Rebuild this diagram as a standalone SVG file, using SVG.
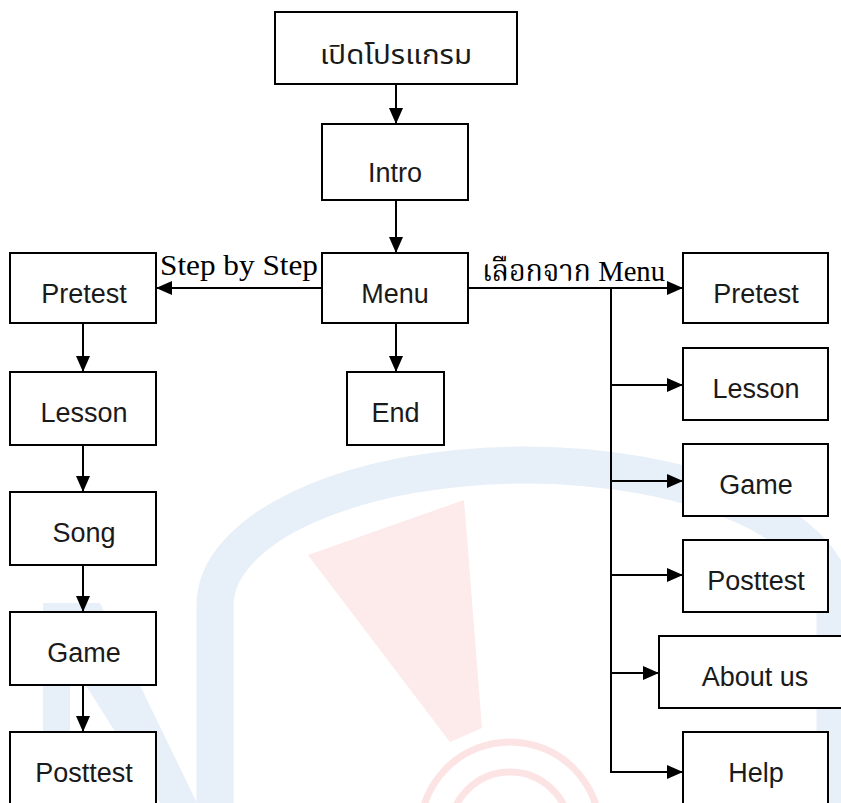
<svg xmlns="http://www.w3.org/2000/svg" width="841" height="803" viewBox="0 0 841 803">
<defs>
<style>
.box{fill:#fff;stroke:#000;stroke-width:2}
.lbl{font-family:"Liberation Sans",Arial,"Noto Sans Thai","Noto Sans",sans-serif;font-size:27px;fill:#1a1a1a;text-anchor:middle}
.thai{font-family:"Noto Sans Thai","Noto Sans Thai UI","Loma","Garuda","Tlwg Typo","DejaVu Sans","Liberation Sans",sans-serif;font-size:27px;fill:#1a1a1a}
.ser{font-family:"Liberation Serif","Times New Roman","Noto Serif Thai","Noto Sans Thai",serif;font-size:30px;fill:#000}
.ln{fill:none;stroke:#000;stroke-width:2}
.wm-b{fill:#e7eff8}
</style>
<marker id="ah" markerUnits="userSpaceOnUse" markerWidth="16" markerHeight="14" refX="16" refY="7" orient="auto">
<path d="M0,0 L16,7 L0,14 Z" fill="#000"/>
</marker>
</defs>
<rect width="841" height="803" fill="#fff"/>
<g id="watermark">
<path d="M215,803 V605 A310,140 0 0 1 835,605 V803" fill="none" stroke="#e7eff8" stroke-width="37"/>
<polygon class="wm-b" points="43,603 100,603 197,803 160,803 70,660 70,803 43,803"/>
<polygon points="308,555 464,500 482,728 450,742" fill="#fdeaea"/>
<circle cx="510" cy="832" r="90" fill="none" stroke="#fde4e4" stroke-width="7"/>
<circle cx="510" cy="832" r="60" fill="none" stroke="#fde4e4" stroke-width="7"/>
</g>
<g id="connectors">
<path class="ln" d="M396,84 V124" marker-end="url(#ah)"/>
<path class="ln" d="M396,200 V253" marker-end="url(#ah)"/>
<path class="ln" d="M396,323 V372" marker-end="url(#ah)"/>
<path class="ln" d="M322,288 H156" marker-end="url(#ah)"/>
<path class="ln" d="M468,288 H683" marker-end="url(#ah)"/>
<path class="ln" d="M83,323 V372" marker-end="url(#ah)"/>
<path class="ln" d="M83,445 V492" marker-end="url(#ah)"/>
<path class="ln" d="M83,565 V612" marker-end="url(#ah)"/>
<path class="ln" d="M83,685 V732" marker-end="url(#ah)"/>
<path class="ln" d="M611,288 V773"/>
<path class="ln" d="M610,385 H683" marker-end="url(#ah)"/>
<path class="ln" d="M610,481 H683" marker-end="url(#ah)"/>
<path class="ln" d="M610,575 H683" marker-end="url(#ah)"/>
<path class="ln" d="M610,673 H659" marker-end="url(#ah)"/>
<path class="ln" d="M610,772 H683" marker-end="url(#ah)"/>
<text class="ser" x="160" y="275" textLength="158" lengthAdjust="spacingAndGlyphs">Step by Step</text>
<text class="ser" x="482" y="281" textLength="183" lengthAdjust="spacingAndGlyphs">เลือกจาก Menu</text>
</g>
<g id="n-open"><rect class="box" x="275" y="12" width="242" height="72"/><text class="thai" x="396" y="64" text-anchor="middle" textLength="152" lengthAdjust="spacingAndGlyphs">เปิดโปรแกรม</text></g>
<g id="n-intro"><rect class="box" x="322" y="124" width="146" height="76"/><text class="lbl" x="395" y="182">Intro</text></g>
<g id="n-menu"><rect class="box" x="322" y="253" width="146" height="70"/><text class="lbl" x="395" y="303">Menu</text></g>
<g id="n-end"><rect class="box" x="347" y="372" width="97" height="73"/><text class="lbl" x="395.5" y="422">End</text></g>
<g id="n-l-pretest"><rect class="box" x="10" y="253" width="146" height="70"/><text class="lbl" x="84" y="303">Pretest</text></g>
<g id="n-l-lesson"><rect class="box" x="10" y="372" width="146" height="73"/><text class="lbl" x="84" y="422">Lesson</text></g>
<g id="n-l-song"><rect class="box" x="10" y="492" width="146" height="73"/><text class="lbl" x="84" y="542">Song</text></g>
<g id="n-l-game"><rect class="box" x="10" y="612" width="146" height="73"/><text class="lbl" x="84" y="662">Game</text></g>
<g id="n-l-posttest"><rect class="box" x="10" y="732" width="146" height="80"/><text class="lbl" x="84" y="782">Posttest</text></g>
<g id="n-r-pretest"><rect class="box" x="683" y="253" width="145" height="70"/><text class="lbl" x="756" y="303">Pretest</text></g>
<g id="n-r-lesson"><rect class="box" x="683" y="348" width="145" height="72"/><text class="lbl" x="756" y="398">Lesson</text></g>
<g id="n-r-game"><rect class="box" x="683" y="444" width="145" height="72"/><text class="lbl" x="756" y="494">Game</text></g>
<g id="n-r-posttest"><rect class="box" x="683" y="540" width="145" height="72"/><text class="lbl" x="756" y="590">Posttest</text></g>
<g id="n-about"><rect class="box" x="659" y="636" width="190" height="72"/><text class="lbl" x="755" y="686">About us</text></g>
<g id="n-help"><rect class="box" x="683" y="732" width="145" height="80"/><text class="lbl" x="756" y="782">Help</text></g>
</svg>
